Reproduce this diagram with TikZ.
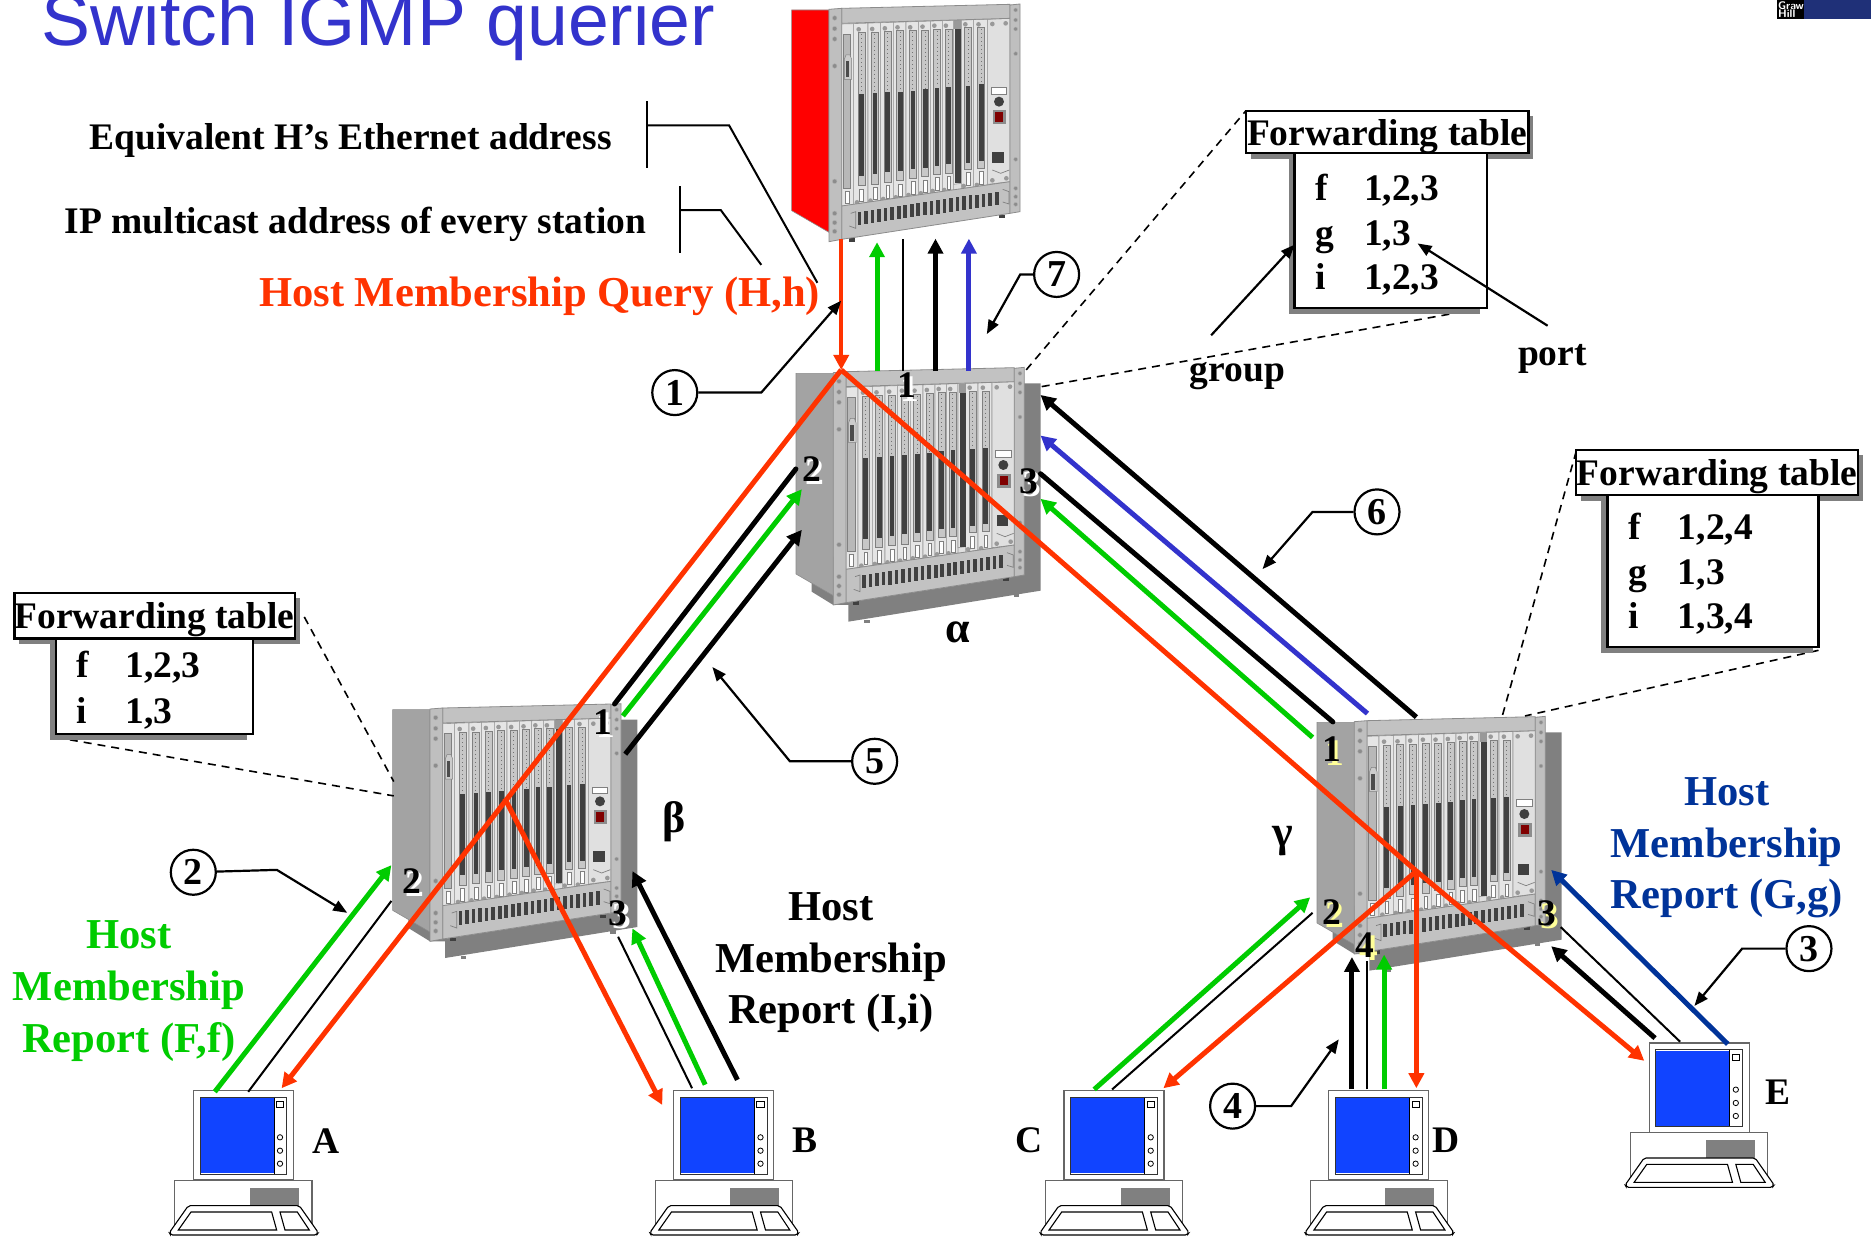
\documentclass[tikz,border=0pt]{standalone}
\usepackage{fontspec}
\setmainfont{Liberation Serif}
\newfontfamily\titlefont{Liberation Sans}
\usetikzlibrary{arrows.meta}
\definecolor{qorange}{HTML}{FF3300}
\definecolor{qgreen}{HTML}{00CC00}
\definecolor{qblue}{HTML}{3333CC}
\definecolor{qnavy}{HTML}{003399}
\definecolor{qshadow}{HTML}{808080}
\definecolor{qscreen}{HTML}{1144FF}
\definecolor{qyellow}{HTML}{FFFF99}
\definecolor{qlogo}{HTML}{1F3078}
\definecolor{qled}{HTML}{800000}
\tikzset{
  tip/.style={-{Triangle[length=15pt,width=15pt]}},
  heavy/.style={line width=5pt,tip},
  heavyline/.style={line width=5pt,line cap=round},
  thinline/.style={line width=2pt,black},
  callout/.style={line width=2.2pt,-{Triangle[length=14pt,width=11pt]}},
  dashline/.style={line width=1.6pt,dash pattern=on 8pt off 6pt},
  lab/.style={font=\bfseries\fontsize{37.5}{37.5}\selectfont,inner sep=0pt,anchor=base west},
  big/.style={font=\bfseries\fontsize{42.6}{51.6}\selectfont,inner sep=0pt,align=center,anchor=center},
  cen/.style={font=\bfseries\fontsize{37.5}{37.5}\selectfont,inner sep=0pt,anchor=center},
  greek/.style={font=\bfseries\fontsize{44}{44}\selectfont,inner sep=0pt,anchor=center},
  badge/.style={circle,draw,line width=2.2pt,fill=white,minimum size=45pt,inner sep=0pt,font=\bfseries\fontsize{38}{38}\selectfont},
  frameb/.style={draw=black,line width=2.4pt,fill=white,outer sep=0pt,inner sep=0pt,anchor=north west},
  railc/.style={fill=black!25,draw=black!45,line width=.8pt},
  hole/.style={fill=black!45,draw=black!30,line width=.4pt},
}
% rack switch, local units are 1/3 pixel
\newcommand\swbox[5]{% name, x, y (px), side colour, shadow 1/0
\begin{scope}[shift={(#2pt,-#3pt)},x=.33333pt,y=-.33333pt]
  \coordinate (#1) at (490,350);
  \ifnum#5=1
    \fill[qshadow] (779,60)--(829,60)--(829,682)--(252,775)--(252,725)--(207,725)--(142,685)--(142,640)--cycle;
    \fill[qshadow] (300,770) rectangle (316,778);
    \fill[qshadow] (748,690) rectangle (764,702);
  \fi
  \fill[#4] (95,30)--(207,30)--(207,697)--(95,632)--cycle;
  \draw[black!45,line width=.6pt] (95,30)--(207,30)--(207,697)--(95,632)--cycle;
  \fill[black!75] (267,714) rectangle (285,725);
  \fill[black!75] (717,645) rectangle (735,654);
  \fill[black!12] (245,70)--(750,52)--(750,640)--(245,718)--cycle;
  % first card
  \draw[fill=black!10,draw=black!40,line width=.6pt] (245,72)--(281,71)--(281,613)--(245,618)--cycle;
  \draw[fill=black!28,draw=black!50,line width=.5pt] (250,102) rectangle (272,565);
  \draw[fill=black!20,draw=black!50,line width=.5pt] (253,178)--(258,165)--(270,165)--(275,178)--(275,238)--(253,238)--cycle;
  \fill[black!70] (258,184) rectangle (268,232);
  \draw[fill=white,draw=black!50,line width=.5pt] (256,574) rectangle (268,610);
  \foreach \l/\r/\a/\b/\c/\d in {281/324/98/283/527/557,324/362/97/280/523/552,362/400/95/277/517/547,400/438/92/275/512/542,438/476/92/272/508/535,476/512/90/268/503/530,512/547/87/263/498/523,547/581/87/261/493/520,604/641/83/257/488/508,641/683/83/253/483/505}{
    \pgfmathsetmacro\tl{72-(\l-245)*.033}
    \pgfmathsetmacro\tr{72-(\r-245)*.033}
    \pgfmathsetmacro\bl{618-(\l-245)*.145}
    \pgfmathsetmacro\br{618-(\r-245)*.145}
    \pgfmathsetmacro\mx{(\l+\r)/2+1.5}
    \draw[fill=black!10,draw=black!40,line width=.6pt] (\l,\tl)--(\r,\tr)--(\r,\br)--(\l,\bl)--cycle;
    \draw[fill=black!22,draw=black!50,line width=.5pt] (\mx-10.5,\a) rectangle (\mx+10.5,\d);
    \fill[black!75] (\mx-7,\b) rectangle (\mx+7,\c);
    \draw[black!55,line width=1pt,dash pattern=on 1pt off 3pt] (\mx,\a+5) -- (\mx,\b-3);
    \draw[fill=white,draw=black!50,line width=.5pt] (\mx-5,\d+10) rectangle (\mx+6,\d+47);
    \fill[black!40] (\mx-8,\a-10) circle (7);
    \fill[black!40] (\mx-13,\d+50) circle (7);
  }
  % wide dark card
  \draw[fill=black!10,draw=black!40,line width=.6pt] (581,60)--(604,59)--(604,550)--(581,553)--cycle;
  \fill[black!40] (583,61) rectangle (604,88);
  \fill[black!75] (586,88) rectangle (604,550);
  % control card
  \draw[fill=black!12,draw=black!40,line width=.6pt] (683,58)--(750,55)--(750,545)--(683,553)--cycle;
  \draw[fill=white,draw=black!50,line width=.6pt] (694,262) rectangle (740,282);
  \fill[black!75] (717,305) circle (15);
  \fill[black!45] (699,331) rectangle (739,373);
  \fill[qled] (706,337) rectangle (730,366);
  \fill[black!75] (697,455) rectangle (732,488);
  \draw[black!50,line width=.7pt] (697,510)--(722,520)--(748,510);
  \foreach \p in {(697,72),(737,70),(697,541),(739,535)} {\fill[black!40] \p circle (7);}
  % rails and strips
  \draw[fill=black!24,draw=black!45,line width=.8pt] (245,25)--(750,13)--(750,55)--(245,70)--cycle;
  \draw[fill=black!24,draw=black!45,line width=.8pt] (245,618)--(750,545)--(750,640)--(245,718)--cycle;
  \foreach \i in {0,...,21}{
    \pgfmathsetmacro\xa{293+\i*19.6}
    \pgfmathsetmacro\ya{635-\i*2.86}
    \fill[black!75] (\xa,\ya) rectangle (\xa+11,\ya+40);
  }
  \draw[black!50,line width=.7pt] (272,640)--(287,635)--(287,685)--(268,678);
  \draw[black!50,line width=.7pt] (728,568)--(747,575)--(747,612)--(728,606);
  \draw[railc] (207,28)--(245,25)--(245,718)--(207,725)--cycle;
  \draw[railc] (750,15)--(780,12)--(780,635)--(750,640)--cycle;
  \foreach \y in {54,86,117,198,544,640,668,694} {\draw[hole] (224,\y) circle (7);}
  \foreach \y in {30,60,87,161,478,565,590,613} {\draw[hole] (767,\y) circle (6);}
\end{scope}}
% desktop computer, local units are 1/3 pixel
\newcommand\pcbox[3]{%
\begin{scope}[shift={(#2pt,-#3pt)},x=.33333pt,y=-.33333pt]
  \coordinate (#1) at (250,300);
  \draw[black!60,line width=1.1pt,fill=white] (44,520)--(44,361)--(456,361)--(456,520);
  \draw[black!60,line width=1.1pt,fill=white] (100,92) rectangle (400,360);
  \draw[black!80,line width=1pt,fill=white] (120,113) rectangle (380,342);
  \fill[qscreen] (122,115) rectangle (342,340);
  \draw[black,line width=.8pt] (342,113)--(342,342);
  \draw[line width=.8pt] (349,125) rectangle (371,143);
  \foreach \y in {232,272,311} {\draw[line width=.8pt] (360,\y) circle (8);}
  \fill[qshadow] (271,385) rectangle (415,437);
  \draw[black!50,line width=1pt] (271,385) rectangle (415,437);
  \draw[black,line width=1.1pt,fill=white,rounded corners=2pt] (85,437)--(418,437)--(475,518)--(470,525)--(32,525)--(28,518)--cycle;
  \draw[black,line width=1.1pt] (93,456)--(335,456)--(350,510)--(55,510)--cycle;
  \draw[black,line width=1.1pt] (360,456)--(412,456)--(448,510)--(375,510)--cycle;
\end{scope}}
\newcommand\conn[5][]{% style, name, from, to
  \coordinate (#3s) at (#4);\coordinate (#3e) at (#5);
  \draw[#2,#1] (#3s) -- (#3e);}
\newcommand\pnum[4]{% name, shadow colour, pos, text
  \node[cen,text=#2,xshift=3.5pt,yshift=-3.5pt] (#1s) at (#3) {#4};
  \node[cen] (#1) at (#3) {#4};}
\begin{document}
\begin{tikzpicture}[x=1.19324pt,y=-1.19324pt]
\useasboundingbox (0,0) rectangle (1568,1040);
\fill[white] (0,0) rectangle (1568,1040);

% logo
\fill[black] (1489,0) rectangle (1512,16);
\fill[qlogo] (1512,0) rectangle (1568,16);
\node[font=\sffamily\bfseries\fontsize{11}{8.5}\selectfont,text=white,inner sep=0pt,align=left,anchor=north west] (logo) at (1490,1) {Graw\\Hill};

% title
\node[font=\titlefont\fontsize{73.4}{73.4}\selectfont,text=qblue,inner sep=0pt,anchor=base west] (title) at (35,38.5) {Switch IGMP querier};

% switches
\swbox{swtop}{760}{0}{red}{0}
\swbox{swa}{764.33}{363.33}{black!36}{1}
\swbox{swb}{361}{699.67}{black!36}{1}
\swbox{swc}{1285.33}{712.33}{black!36}{1}

% computers
\pcbox{pca}{160}{1060}
\pcbox{pcb}{640.5}{1060}
\pcbox{pcc}{1030.7}{1060}
\pcbox{pcd}{1295.6}{1060}
\pcbox{pce}{1615.8}{1012.3}

% top labels with brackets
\node[lab] (eq) at (75,125) {Equivalent H’s Ethernet address};
\node[lab] (ip) at (54,195.5) {IP multicast address of every station};
\node[lab,font=\bfseries\fontsize{42.6}{42.6}\selectfont,text=qorange] (hq) at (217,257) {Host Membership Query (H,h)};
\coordinate (br1a) at (542,85);\coordinate (br1b) at (542,141);
\coordinate (br1c) at (542,105);\coordinate (br1d) at (611,105);\coordinate (br1e) at (685,237);
\draw[thinline] (br1a)--(br1b);
\draw[thinline] (br1c)--(br1d)--(br1e);
\coordinate (br2a) at (570,156);\coordinate (br2b) at (570,212);
\coordinate (br2c) at (570,176);\coordinate (br2d) at (604,176);\coordinate (br2e) at (638,222);
\draw[thinline] (br2a)--(br2b);
\draw[thinline] (br2c)--(br2d)--(br2e);

% dashed leaders
\conn{dashline}{da1}{860,310}{1044,93}
\conn{dashline}{da2}{873,324}{1222,262}
\conn{dashline}{db1}{255,517}{330,655}
\conn{dashline}{db2}{47,618}{330,667}
\conn{dashline}{dc1}{1321,378}{1259,600}
\conn{dashline}{dc2}{1524,545}{1278,600}

% links at the querier
\conn{heavy,qgreen}{t2}{735,311}{735,203}
\conn{thinline}{t3}{757,311}{757,200}
\conn{heavy,black}{t4}{784,311}{784,200}
\conn{heavy,qblue}{t5}{812,311}{812,200}

% alpha - beta
\conn{heavyline}{ab1}{515,590}{667,393}
\conn{heavy,qgreen}{ab2}{522,600}{672,410}
\conn{heavy,black}{ab3}{524,632}{672,444}
% alpha - gamma
\conn{heavy,black}{ac1}{1187,601}{872,331}
\conn{heavy,qblue}{ac2}{1146,598}{872,365}
\conn{heavyline}{ac3}{1117,605}{872,397}
\conn{heavy,qgreen}{ac4}{1100,618}{872,418}
% beta - hosts
\conn{heavy,qgreen}{ba1}{180,915}{328,725}
\conn{thinline}{ba2}{208,915}{328,755}
\conn{heavy,black}{bb1}{618,905}{530,730}
\conn{heavy,qgreen}{bb2}{591,909}{530,778}
\conn{thinline}{bb3}{580,912}{518,785}
% gamma - hosts
\conn{heavy,qgreen}{cc1}{917,913}{1098,752}
\conn{thinline}{cc2}{932,913}{1100,765}
\conn{heavy,black}{cd1}{1133,913}{1133,802}
\conn{thinline}{cd2}{1146,913}{1146,805}
\conn{heavy,qgreen}{cd3}{1160,913}{1160,800}
\conn{heavy,qnavy}{ce1}{1448,875}{1300,729}
\conn{thinline}{ce2}{1408,873}{1308,777}
\conn{heavy,black}{ce3}{1387,870}{1300,793}

% query flooding
\coordinate (qtop) at (705,310);
\coordinate (qsrc) at (705,200);
\coordinate (qb) at (423,669);
\coordinate (qc) at (1187,730);
\coordinate (qa) at (236,912);
\coordinate (qbb) at (555,926);
\coordinate (qcc) at (975,912);
\coordinate (qd) at (1187,912);
\coordinate (qe) at (1378,889);
\draw[heavy,qorange,line width=4pt] (qsrc) -- (qtop);
\draw[heavy,qorange] (qtop) -- (qa);
\draw[heavy,qorange] (qb) -- (qbb);
\draw[heavy,qorange] (qtop) -- (qc) -- (qe);
\draw[heavy,qorange] (qc) -- (qcc);
\draw[heavy,qorange] (qc) -- (qd);

% forwarding table at alpha
\fill[qshadow] (1080,133) rectangle (1240,263);
\fill[qshadow] (1048,97) rectangle (1285,133);
\node[frameb,minimum width=161pt*1.19324,minimum height=130pt*1.19324] (ta) at (1085,128) {};
\node[frameb,minimum width=237pt*1.19324,minimum height=35pt*1.19324] (tat) at (1044,93) {};
\node[cen,yshift=-5pt] (tatl) at (tat.center) {Forwarding table};
\node[lab] (ta1) at (1102,168) {f};\node[lab] (ta2) at (1143,168) {1,2,3};
\node[lab] (ta3) at (1102,206) {g};\node[lab] (ta4) at (1143,206) {1,3};
\node[lab] (ta5) at (1102,243) {i};\node[lab] (ta6) at (1143,243) {1,2,3};
\node[lab] (group) at (997,320) {group};
\node[lab] (port) at (1272,306) {port};
\coordinate (gs) at (1015,281);\coordinate (ge) at (1085,205);
\coordinate (ps) at (1297,273);\coordinate (pe) at (1188,204);
\draw[callout] (gs)--(ge);
\draw[callout] (ps)--(pe);

% forwarding table at beta
\fill[qshadow] (42,540) rectangle (207,620);
\fill[qshadow] (16,501) rectangle (251,540);
\node[frameb,minimum width=165pt*1.19324,minimum height=80pt*1.19324] (tb) at (47,535) {};
\node[frameb,minimum width=235pt*1.19324,minimum height=38pt*1.19324] (tbt) at (12,497) {};
\node[cen,yshift=-3.5pt] (tbtl) at (tbt.center) {Forwarding table};
\node[lab] (tb1) at (64,568) {f};\node[lab] (tb2) at (105,568) {1,2,3};
\node[lab] (tb3) at (64,606) {i};\node[lab] (tb4) at (105,606) {1,3};

% forwarding table at gamma
\fill[qshadow] (1342,420) rectangle (1519,547);
\fill[qshadow] (1325,381) rectangle (1561,420);
\node[frameb,minimum width=177pt*1.19324,minimum height=127pt*1.19324] (tc) at (1347,415) {};
\node[frameb,minimum width=236pt*1.19324,minimum height=38pt*1.19324] (tct) at (1321,377) {};
\node[cen,yshift=-4.5pt] (tctl) at (tct.center) {Forwarding table};
\node[lab] (tc1) at (1365,452) {f};\node[lab] (tc2) at (1406,452) {1,2,4};
\node[lab] (tc3) at (1365,490) {g};\node[lab] (tc4) at (1406,490) {1,3};
\node[lab] (tc5) at (1365,527) {i};\node[lab] (tc6) at (1406,527) {1,3,4};

% switch names
\node[greek] (na) at (803,530) {α};
\node[greek] (nb) at (565,689) {β};
\node[greek] (nc) at (1075,705) {γ};

% host names
\node[cen] (la) at (273,956) {A};
\node[cen] (lb) at (675,956) {B};
\node[cen] (lc) at (862,956) {C};
\node[cen] (ld) at (1212,956) {D};
\node[cen] (le) at (1490,915) {E};

% report labels
\node[big,text=qgreen] (rf) at (108,830.5) {Host\\Membership\\Report (F,f)};
\node[big] (ri) at (696.5,807) {Host\\Membership\\Report (I,i)};
\node[big,text=qnavy] (rg) at (1447,710.5) {Host\\Membership\\Report (G,g)};

% port numbers
\pnum{pa1}{white}{760,323}{1}
\pnum{pa2}{white}{680,393}{2}
\pnum{pa3}{white}{862,403}{3}
\pnum{pb1}{white}{505,605}{1}
\pnum{pb2}{white}{345,738}{2}
\pnum{pb3}{white}{518,765}{3}
\pnum{pc1}{qyellow}{1116,628}{1}
\pnum{pc2}{qyellow}{1116,764}{2}
\pnum{pc3}{qyellow}{1296,765}{3}
\pnum{pc4}{qyellow}{1144,792}{4}

% numbered callouts
\node[badge] (c1) at (565.5,329) {1};
\node[badge] (c2) at (162,731) {2};
\node[badge] (c3) at (1516,795) {3};
\node[badge] (c4) at (1033,927) {4};
\node[badge] (c5) at (733,638) {5};
\node[badge] (c6) at (1154,429) {6};
\node[badge] (c7) at (885.5,230) {7};
\coordinate (k1a) at (638,329);\coordinate (k1b) at (705,252);
\coordinate (k2a) at (232,729);\coordinate (k2b) at (291,765);
\coordinate (k3a) at (1460,795);\coordinate (k3b) at (1420,843);
\coordinate (k4a) at (1082,927);\coordinate (k4b) at (1122,871);
\coordinate (k5a) at (662,638);\coordinate (k5b) at (597,559);
\coordinate (k6a) at (1100,429);\coordinate (k6b) at (1058,477);
\coordinate (k7a) at (855,230);\coordinate (k7b) at (827,280);
\draw[callout] (c1)--(k1a)--(k1b);
\draw[callout] (c2)--(k2a)--(k2b);
\draw[callout] (c3)--(k3a)--(k3b);
\draw[callout] (c4)--(k4a)--(k4b);
\draw[callout] (c5)--(k5a)--(k5b);
\draw[callout] (c6)--(k6a)--(k6b);
\draw[callout] (c7)--(k7a)--(k7b);
\end{tikzpicture}
\end{document}
